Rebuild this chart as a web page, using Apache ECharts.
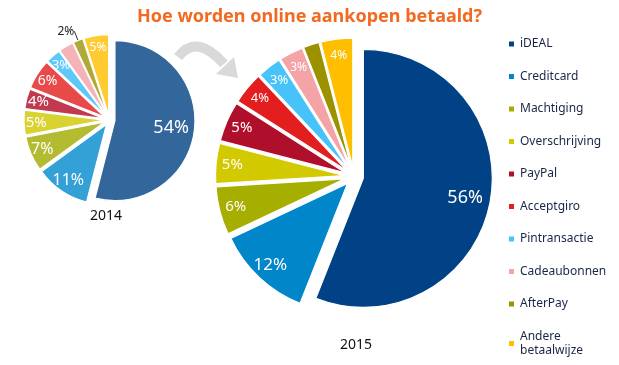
<!DOCTYPE html>
<html><head><meta charset="utf-8">
<script src="https://cdn.jsdelivr.net/npm/echarts@6/dist/echarts.min.js"></script>
<style>html,body{margin:0;padding:0;background:#fff}#c{width:619px;height:365px}</style>
</head><body><div id="c"></div>
<script>
// ---- data ----
var categories = ['iDEAL','Creditcard','Machtiging','Overschrijving','PayPal','Acceptgiro','Pintransactie','Cadeaubonnen','AfterPay','Andere betaalwijze'];
var values2014 = [54, 11, 7, 5, 4, 6, 3, 3, 2, 5];
var values2015 = [56, 12, 6, 5, 5, 4, 3, 3, 2, 4];
var years = ['2014', '2015'];
var titleText = 'Hoe worden online aankopen betaald?';

// ---- styles ----
var colors2014 = ['#33679c','#33a0d6','#b3bb30','#d8d330','#c0394e','#e84a4a','#5ec8f6','#f4b4b7','#b0a838','#ffcb30'];
var colors2015 = ['#004285','#0086c9','#a6ae00','#d3c900','#b00f2b','#e31e1e','#47c3fa','#f4a3a6','#9c9200','#ffbe00'];
var labelSize2014 = [18,16,16,15,15,14,13,13,12,12];
var labelSize2015 = [18,17,15,15,15,13,13,12,12,12];
var FONT = 'Noto Sans';

var chart = echarts.init(document.getElementById('c'), null, {renderer:'canvas'});

function fillSeries(vals, cols, center, r, off, outsideIdx) {
  return {
    type: 'pie', center: center, radius: [0, r], startAngle: 90, clockwise: true,
    selectedMode: 'multiple', selectedOffset: off, avoidLabelOverlap: false,
    animation: false, emphasis: {disabled: true}, silent: true,
    itemStyle: {borderColor: '#fff', borderWidth: 1.2},
    select: {itemStyle: {borderColor: '#fff', borderWidth: 1.2}},
    label: {show: false},
    labelLine: {show: false},
    data: categories.map(function (n, i) {
      var d = {name: n, value: vals[i], selected: true, itemStyle: {color: cols[i]}};
      if (i === outsideIdx) {
        d.label = {show: true, position: 'outside', formatter: '{c}%', color: '#222', fontSize: 12, fontFamily: FONT, distanceToLabelLine: 0};
        d.labelLine = {show: true, length: 10, length2: 0, lineStyle: {color: '#333', width: 1}};
      }
      return d;
    })
  };
}
function labelSeries(vals, center, rIn, r, off, sizes, showFn) {
  return {
    type: 'pie', center: center, radius: [rIn, r], startAngle: 90, clockwise: true,
    selectedMode: 'multiple', selectedOffset: off, avoidLabelOverlap: false,
    animation: false, emphasis: {disabled: true}, silent: true,
    itemStyle: {color: 'rgba(0,0,0,0)', borderWidth: 0},
    select: {itemStyle: {color: 'rgba(0,0,0,0)', borderWidth: 0}},
    labelLine: {show: false},
    label: {show: true, position: 'inside', formatter: '{c}%', color: '#fff', fontFamily: FONT},
    data: categories.map(function (n, i) {
      return {name: n, value: vals[i], selected: true,
        label: {show: showFn(i), fontSize: sizes[i]}};
    })
  };
}

var c14 = [109.5, 120], r14 = 80, o14 = 5.5;
var c15 = [354, 176.5], r15 = 129, o15 = 9.5;

var option = {
  backgroundColor: '#fff',
  animation: false,
  title: {
    text: titleText, left: 'center', top: 6, padding: 0,
    textStyle: {color: '#f26a21', fontSize: 18, fontWeight: 'bold', fontFamily: FONT, lineHeight: 22}
  },
  legend: {
    orient: 'vertical', left: 507, top: 37, padding: 0,
    itemWidth: 7, itemHeight: 7, itemGap: 18.5, icon: 'rect',
    selectedMode: false,
    data: categories,
    formatter: function (n) { return n === 'Andere betaalwijze' ? 'Andere\nbetaalwijze' : n; },
    textStyle: {color: '#1a2547', fontSize: 12, fontFamily: FONT, lineHeight: 14}
  },
  graphic: [
    {type: 'text', x: 106, y: 216, style: {text: years[0], fill: '#111', font: '14px ' + FONT, align: 'center', verticalAlign: 'middle'}},
    {type: 'text', x: 356, y: 345, style: {text: years[1], fill: '#111', font: '14px ' + FONT, align: 'center', verticalAlign: 'middle'}},
    {type: 'bezierCurve', shape: {x1: 178, y1: 57, cpx1: 197, cpy1: 33, x2: 224, y2: 64},
      style: {stroke: '#d9d9d9', lineWidth: 10, fill: null}},
    {type: 'polygon', shape: {points: [[238, 78], [234, 57], [216, 74]]}, style: {fill: '#d9d9d9'}}
  ],
  series: [
    fillSeries(values2015, colors2015, c15, r15, o15, -1),
    fillSeries(values2014, colors2014, c14, r14, o14, 8),
    labelSeries(values2015, c15, r15 * 0.7, r15, o15, labelSize2015, function (i) { return i > 0; }),
    labelSeries(values2015, c15, r15 * 0.56, r15, o15, labelSize2015, function (i) { return i === 0; }),
    labelSeries(values2014, c14, r14 * 0.62, r14, o14, labelSize2014, function (i) { return i > 0 && i !== 8; }),
    labelSeries(values2014, c14, r14 * 0.34, r14, o14, labelSize2014, function (i) { return i === 0; })
  ]
};
chart.setOption(option);
</script>
</body></html>
